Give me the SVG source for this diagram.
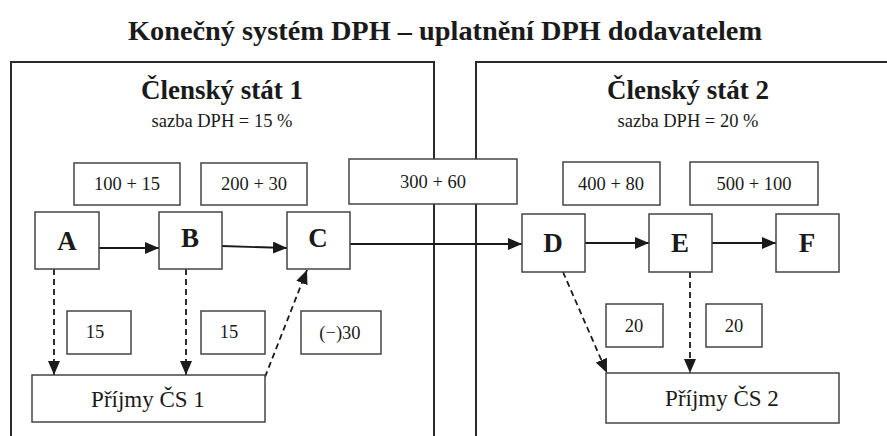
<svg xmlns="http://www.w3.org/2000/svg" width="887" height="436" viewBox="0 0 887 436">
<defs>
<marker id="ah" viewBox="0 0 14 12" refX="14" refY="6" markerWidth="14" markerHeight="12" markerUnits="userSpaceOnUse" orient="auto">
<path d="M0,0 L14,6 L0,12 Z" fill="#1a1a1a"/>
</marker>
</defs>
<style>
.frame{fill:none;stroke:#2a2a2a;stroke-width:2}
.box{fill:#fff;stroke:#444;stroke-width:1.5}
.t{font-family:"Liberation Serif","Times New Roman",serif;font-weight:normal;fill:#1a1a1a;text-anchor:middle}
.h{font-size:27px;font-weight:bold}
.s{font-size:18.5px}
.v{font-size:18.5px}
.l{font-size:27px;font-weight:bold}
.p{font-size:23px}
.c{stroke:#1a1a1a;stroke-width:1.8;fill:none}
.d{stroke-dasharray:6,4}
</style>
<rect width="887" height="436" fill="#fff"/>
<text class="t" x="445" y="40" style="font-size:27px;font-weight:bold" textLength="634" lengthAdjust="spacingAndGlyphs">Konečný systém DPH – uplatnění DPH dodavatelem</text>
<g id="state1">
<path class="frame" d="M11,436 V62 H434 V436"/>
<text class="t h" x="222" y="99">Členský stát 1</text>
<text class="t s" x="222" y="127">sazba DPH = 15 %</text>
</g>
<g id="state2">
<path class="frame" d="M476,436 V62 H887"/>
<text class="t h" x="688" y="99">Členský stát 2</text>
<text class="t s" x="688" y="127">sazba DPH = 20 %</text>
</g>
<g id="connectors">
<line class="c" x1="99" y1="248" x2="159" y2="248" marker-end="url(#ah)"/>
<line class="c" x1="222" y1="246" x2="287" y2="248" marker-end="url(#ah)"/>
<line class="c" x1="350" y1="244" x2="522" y2="244" marker-end="url(#ah)"/>
<line class="c" x1="585" y1="243" x2="649" y2="243" marker-end="url(#ah)"/>
<line class="c" x1="712" y1="243" x2="776" y2="243" marker-end="url(#ah)"/>
<line class="c d" x1="54" y1="269" x2="54" y2="375" marker-end="url(#ah)"/>
<line class="c d" x1="186" y1="269" x2="186" y2="375" marker-end="url(#ah)"/>
<line class="c d" x1="265" y1="377" x2="307" y2="270" marker-end="url(#ah)"/>
<line class="c d" x1="563" y1="272" x2="607" y2="373" marker-end="url(#ah)"/>
<line class="c d" x1="690" y1="272" x2="690" y2="373" marker-end="url(#ah)"/>
</g>
<g id="v100"><rect class="box" x="74" y="163" width="106" height="42"/><text class="t v" x="127" y="190">100 + 15</text></g>
<g id="v200"><rect class="box" x="201" y="163" width="106" height="42"/><text class="t v" x="254" y="190">200 + 30</text></g>
<g id="v300"><rect class="box" x="349" y="159" width="168" height="45"/><text class="t v" x="433" y="188">300 + 60</text></g>
<g id="v400"><rect class="box" x="563" y="162" width="97" height="43"/><text class="t v" x="611" y="190">400 + 80</text></g>
<g id="v500"><rect class="box" x="690" y="162" width="128" height="43"/><text class="t v" x="754" y="190">500 + 100</text></g>
<g id="A"><rect class="box" x="35" y="212" width="64" height="57"/><text class="t l" x="67" y="250">A</text></g>
<g id="B"><rect class="box" x="159" y="212" width="63" height="57"/><text class="t l" x="190" y="247">B</text></g>
<g id="C"><rect class="box" x="287" y="212" width="63" height="57"/><text class="t l" x="318" y="247">C</text></g>
<g id="D"><rect class="box" x="522" y="214" width="63" height="58"/><text class="t l" x="553" y="252">D</text></g>
<g id="E"><rect class="box" x="649" y="214" width="63" height="58"/><text class="t l" x="680" y="252">E</text></g>
<g id="F"><rect class="box" x="776" y="214" width="63" height="58"/><text class="t l" x="807" y="252">F</text></g>
<g id="t15a"><rect class="box" x="67" y="311" width="64" height="43"/><text class="t v" x="95" y="338">15</text></g>
<g id="t15b"><rect class="box" x="201" y="311" width="64" height="43"/><text class="t v" x="229" y="338">15</text></g>
<g id="t30"><rect class="box" x="301" y="311" width="80" height="43"/><text class="t v" x="340" y="339">(−)30</text></g>
<g id="t20a"><rect class="box" x="606" y="304" width="57" height="43"/><text class="t v" x="634" y="332">20</text></g>
<g id="t20b"><rect class="box" x="706" y="304" width="56" height="43"/><text class="t v" x="734" y="332">20</text></g>
<g id="cs1"><rect class="box" x="32" y="375" width="233" height="47"/><text class="t p" x="148" y="407">Příjmy ČS 1</text></g>
<g id="cs2"><rect class="box" x="606" y="373" width="233" height="50"/><text class="t p" x="722" y="406">Příjmy ČS 2</text></g>
</svg>
